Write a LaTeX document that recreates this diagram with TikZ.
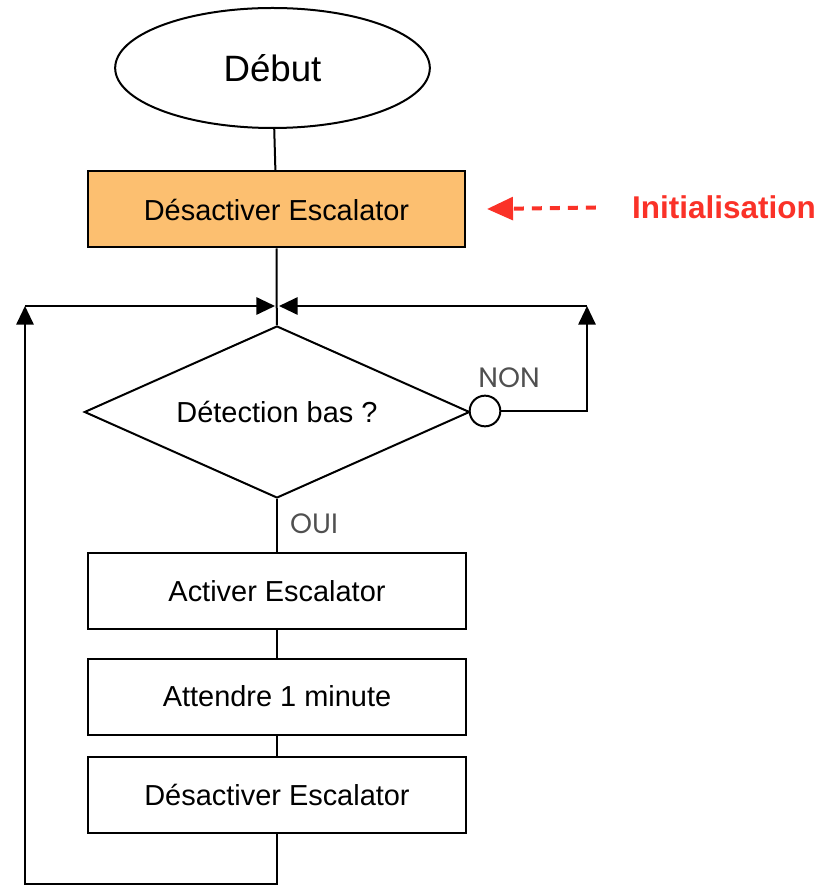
\documentclass[tikz,border=0pt]{standalone}
\usepackage{fontspec}
\setmainfont{Liberation Sans}
\newfontfamily\labfont{Poppins}
\usetikzlibrary{shapes.geometric}
\usetikzlibrary{arrows.meta}
\definecolor{initfill}{RGB}{252,191,112}
\definecolor{initred}{RGB}{250,50,40}
\definecolor{labgray}{RGB}{80,80,80}
\tikzset{
	etape/.style={rectangle,draw=black,line width=1.5pt,inner sep=0pt,minimum width=283pt,minimum height=57pt,font=\fontsize{21.7}{26}\selectfont},
	initbox/.style={etape,fill=initfill},
	terminal/.style={ellipse,draw=black,line width=1.5pt,inner sep=0pt,minimum width=236pt,minimum height=90pt,font=\fontsize{27.5}{33}\selectfont},
	test/.style={diamond,draw=black,line width=1.5pt,inner sep=0pt,aspect=2.5,minimum width=289pt,minimum height=129pt,font=\fontsize{21.7}{26}\selectfont},
	inv/.style={circle,draw=black,fill=white,line width=1.5pt,inner sep=0pt,minimum size=23pt},
	choix/.style={text=labgray,inner sep=0pt,font=\labfont\fontsize{21}{25}\selectfont},
	lien/.style={line width=1.5pt},
	retour/.style={line width=1.5pt,-{Triangle[length=14pt,width=13pt]}},
	comment/.style={text=initred,inner sep=0pt,font=\bfseries\fontsize{23.6}{28}\selectfont},
	pointe/.style={initred,line width=3pt,dash pattern=on 7.5pt off 6pt,-{Triangle[length=19.5pt,width=17pt]}},
}

\begin{document}
\begin{tikzpicture}[x=0.75pt,y=-0.75pt]
\useasboundingbox (0,0) rectangle (832,887);

\node[terminal] (debut) at (272.5,68) {Début};
\node[initbox] (init) at (276.5,209.5) {Désactiver Escalator};
\node[test] (detect) at (277,412) {Détection bas ?};
\node[inv] (non) at (485,411) {};
\node[etape] (activer) at (277,591) {Activer Escalator};
\node[etape] (attendre) at (277,696.5) {Attendre 1 minute};
\node[etape] (desact) at (277,794.5) {Désactiver Escalator};

\node[choix] (lnon) at (509,378) {NON};
\node[choix] (loui) at (314,524) {OUI};
\node[comment] (linit) at (724,207) {Initialisation};

\coordinate (j) at (277,306);
\coordinate (hg) at (25,306);
\coordinate (bg) at (25,884);
\coordinate (bm) at (277,884);
\coordinate (hd) at (587,306);
\coordinate (md) at (587,411);
\coordinate (fl) at (487,209);

% liaisons
\draw[lien] (debut) -- (init);
\draw[lien] (init) -- (detect);
\draw[lien] (detect) -- (activer);
\draw[lien] (activer) -- (attendre);
\draw[lien] (attendre) -- (desact);

% boucles
\draw[retour] (desact) -- (bm) -- (bg) -- (hg);
\draw[retour,shorten >=1.5pt] (hg) -- (j);
\draw[retour] (non) -- (md) -- (hd);
\draw[retour,shorten >=1.5pt] (hd) -- (j);

\draw[pointe,shorten <=27pt] (linit.west) -- (fl);
\end{tikzpicture}
\end{document}
